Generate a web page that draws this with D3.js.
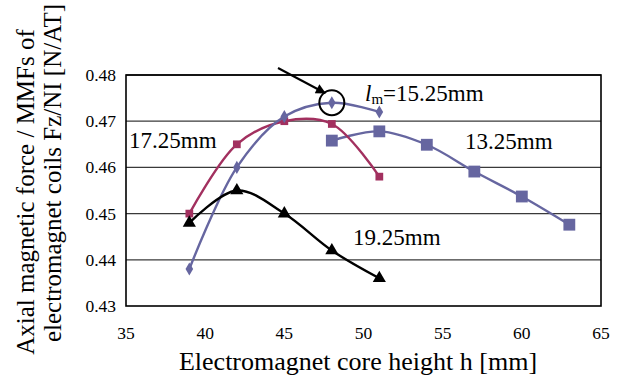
<!DOCTYPE html>
<html>
<head>
<meta charset="utf-8">
<script src="https://cdn.jsdelivr.net/npm/d3@7"></script>
<style>
  body { margin: 0; background: #fff; }
  svg text { font-family: "Liberation Serif", "Times New Roman", "DejaVu Serif", serif; }
</style>
</head>
<body>
<svg id="chart" width="624" height="379"></svg>
<script>
// data
const heights = [39, 42, 45, 48, 51];
const heights13 = [48, 51, 54, 57, 60, 63];
const force1525 = [0.438, 0.460, 0.471, 0.474, 0.472];
const force1725 = [0.450, 0.465, 0.470, 0.4694, 0.458];
const force1325 = [0.4658, 0.4678, 0.4649, 0.4591, 0.4537, 0.4476];
const force1925 = [0.448, 0.455, 0.450, 0.442, 0.436];
const xTicks = [35, 40, 45, 50, 55, 60, 65];
const yTicks = [0.43, 0.44, 0.45, 0.46, 0.47, 0.48];

const svg = d3.select("#chart");
const plotL = 126, plotR = 601, plotT = 75, plotB = 306;

const x = d3.scaleLinear().domain([35, 65]).range([plotL, plotR]);
const y = d3.scaleLinear().domain([0.43, 0.48]).range([plotB, plotT]);

// grid lines
svg.append("g")
  .selectAll("line")
  .data(yTicks.slice(1))
  .join("line")
  .attr("x1", plotL).attr("x2", plotR)
  .attr("y1", d => y(d)).attr("y2", d => y(d))
  .attr("stroke", "#3a3a3a").attr("stroke-width", 1.3);

// frame
svg.append("rect")
  .attr("x", plotL).attr("y", plotT)
  .attr("width", plotR - plotL).attr("height", plotB - plotT)
  .attr("fill", "none").attr("stroke", "#000").attr("stroke-width", 1.6);

// tick labels
svg.append("g")
  .selectAll("text")
  .data(yTicks)
  .join("text")
  .attr("x", 116).attr("y", d => y(d) + 6)
  .attr("text-anchor", "end")
  .attr("font-size", 17.5)
  .text(d => d.toFixed(2));

svg.append("g")
  .selectAll("text")
  .data(xTicks)
  .join("text")
  .attr("x", d => x(d)).attr("y", 339)
  .attr("text-anchor", "middle")
  .attr("font-size", 17.5)
  .text(d => d);

// series
const line = d3.line()
  .x(d => x(d[0])).y(d => y(d[1]))
  .curve(d3.curveCatmullRom.alpha(0.5));

function drawSeries(xs, ys, color, symbol, size) {
  const pts = xs.map((h, i) => [h, ys[i]]);
  svg.append("path")
    .attr("d", line(pts))
    .attr("fill", "none")
    .attr("stroke", color)
    .attr("stroke-width", 2.4);
  svg.append("g")
    .selectAll("path")
    .data(pts)
    .join("path")
    .attr("transform", d => "translate(" + x(d[0]) + "," + y(d[1]) + ")")
    .attr("d", d3.symbol().type(symbol).size(size))
    .attr("fill", color);
}

const blue = "#6666a0", red = "#a2305f";
drawSeries(heights13, force1325, blue, d3.symbolSquare, 140);
drawSeries(heights, force1725, red, d3.symbolSquare, 60);
drawSeries(heights, force1525, blue, d3.symbolDiamond, 50);
drawSeries(heights, force1925, "#000", d3.symbolTriangle, 75);

// annotation: circle and arrow
svg.append("defs").append("marker")
  .attr("id", "head")
  .attr("viewBox", "0 0 10 10")
  .attr("refX", 9).attr("refY", 5)
  .attr("markerWidth", 6).attr("markerHeight", 5)
  .attr("orient", "auto")
  .append("path").attr("d", "M0,0L10,5L0,10z").attr("fill", "#000");

svg.append("circle")
  .attr("cx", x(48)).attr("cy", y(0.474))
  .attr("r", 12.5)
  .attr("fill", "none").attr("stroke", "#000").attr("stroke-width", 2);

svg.append("line")
  .attr("x1", 278).attr("y1", 68)
  .attr("x2", 325).attr("y2", 93)
  .attr("stroke", "#000").attr("stroke-width", 2)
  .attr("marker-end", "url(#head)");

// series labels
const lab = svg.append("text").attr("x", 365).attr("y", 101).attr("font-size", 23);
lab.append("tspan").attr("font-style", "italic").text("l");
lab.append("tspan").attr("font-size", 15).attr("dy", 3).text("m");
lab.append("tspan").attr("dy", -3).text("=15.25mm");

svg.append("text").attr("x", 129).attr("y", 148).attr("font-size", 23).text("17.25mm");
svg.append("text").attr("x", 465).attr("y", 149).attr("font-size", 23).text("13.25mm");
svg.append("text").attr("x", 353).attr("y", 245).attr("font-size", 23).text("19.25mm");

// axis titles
svg.append("text")
  .attr("x", 358).attr("y", 370)
  .attr("text-anchor", "middle")
  .attr("font-size", 26)
  .text("Electromagnet core height h [mm]");

const yt = svg.append("text")
  .attr("transform", "rotate(-90)")
  .attr("text-anchor", "middle")
  .attr("font-size", 25);
yt.append("tspan").attr("x", -192).attr("y", 34).text("Axial magnetic force / MMFs of");
yt.append("tspan").attr("x", -173).attr("y", 61).text("electromagnet coils Fz/NI [N/AT]");
</script>
</body>
</html>
